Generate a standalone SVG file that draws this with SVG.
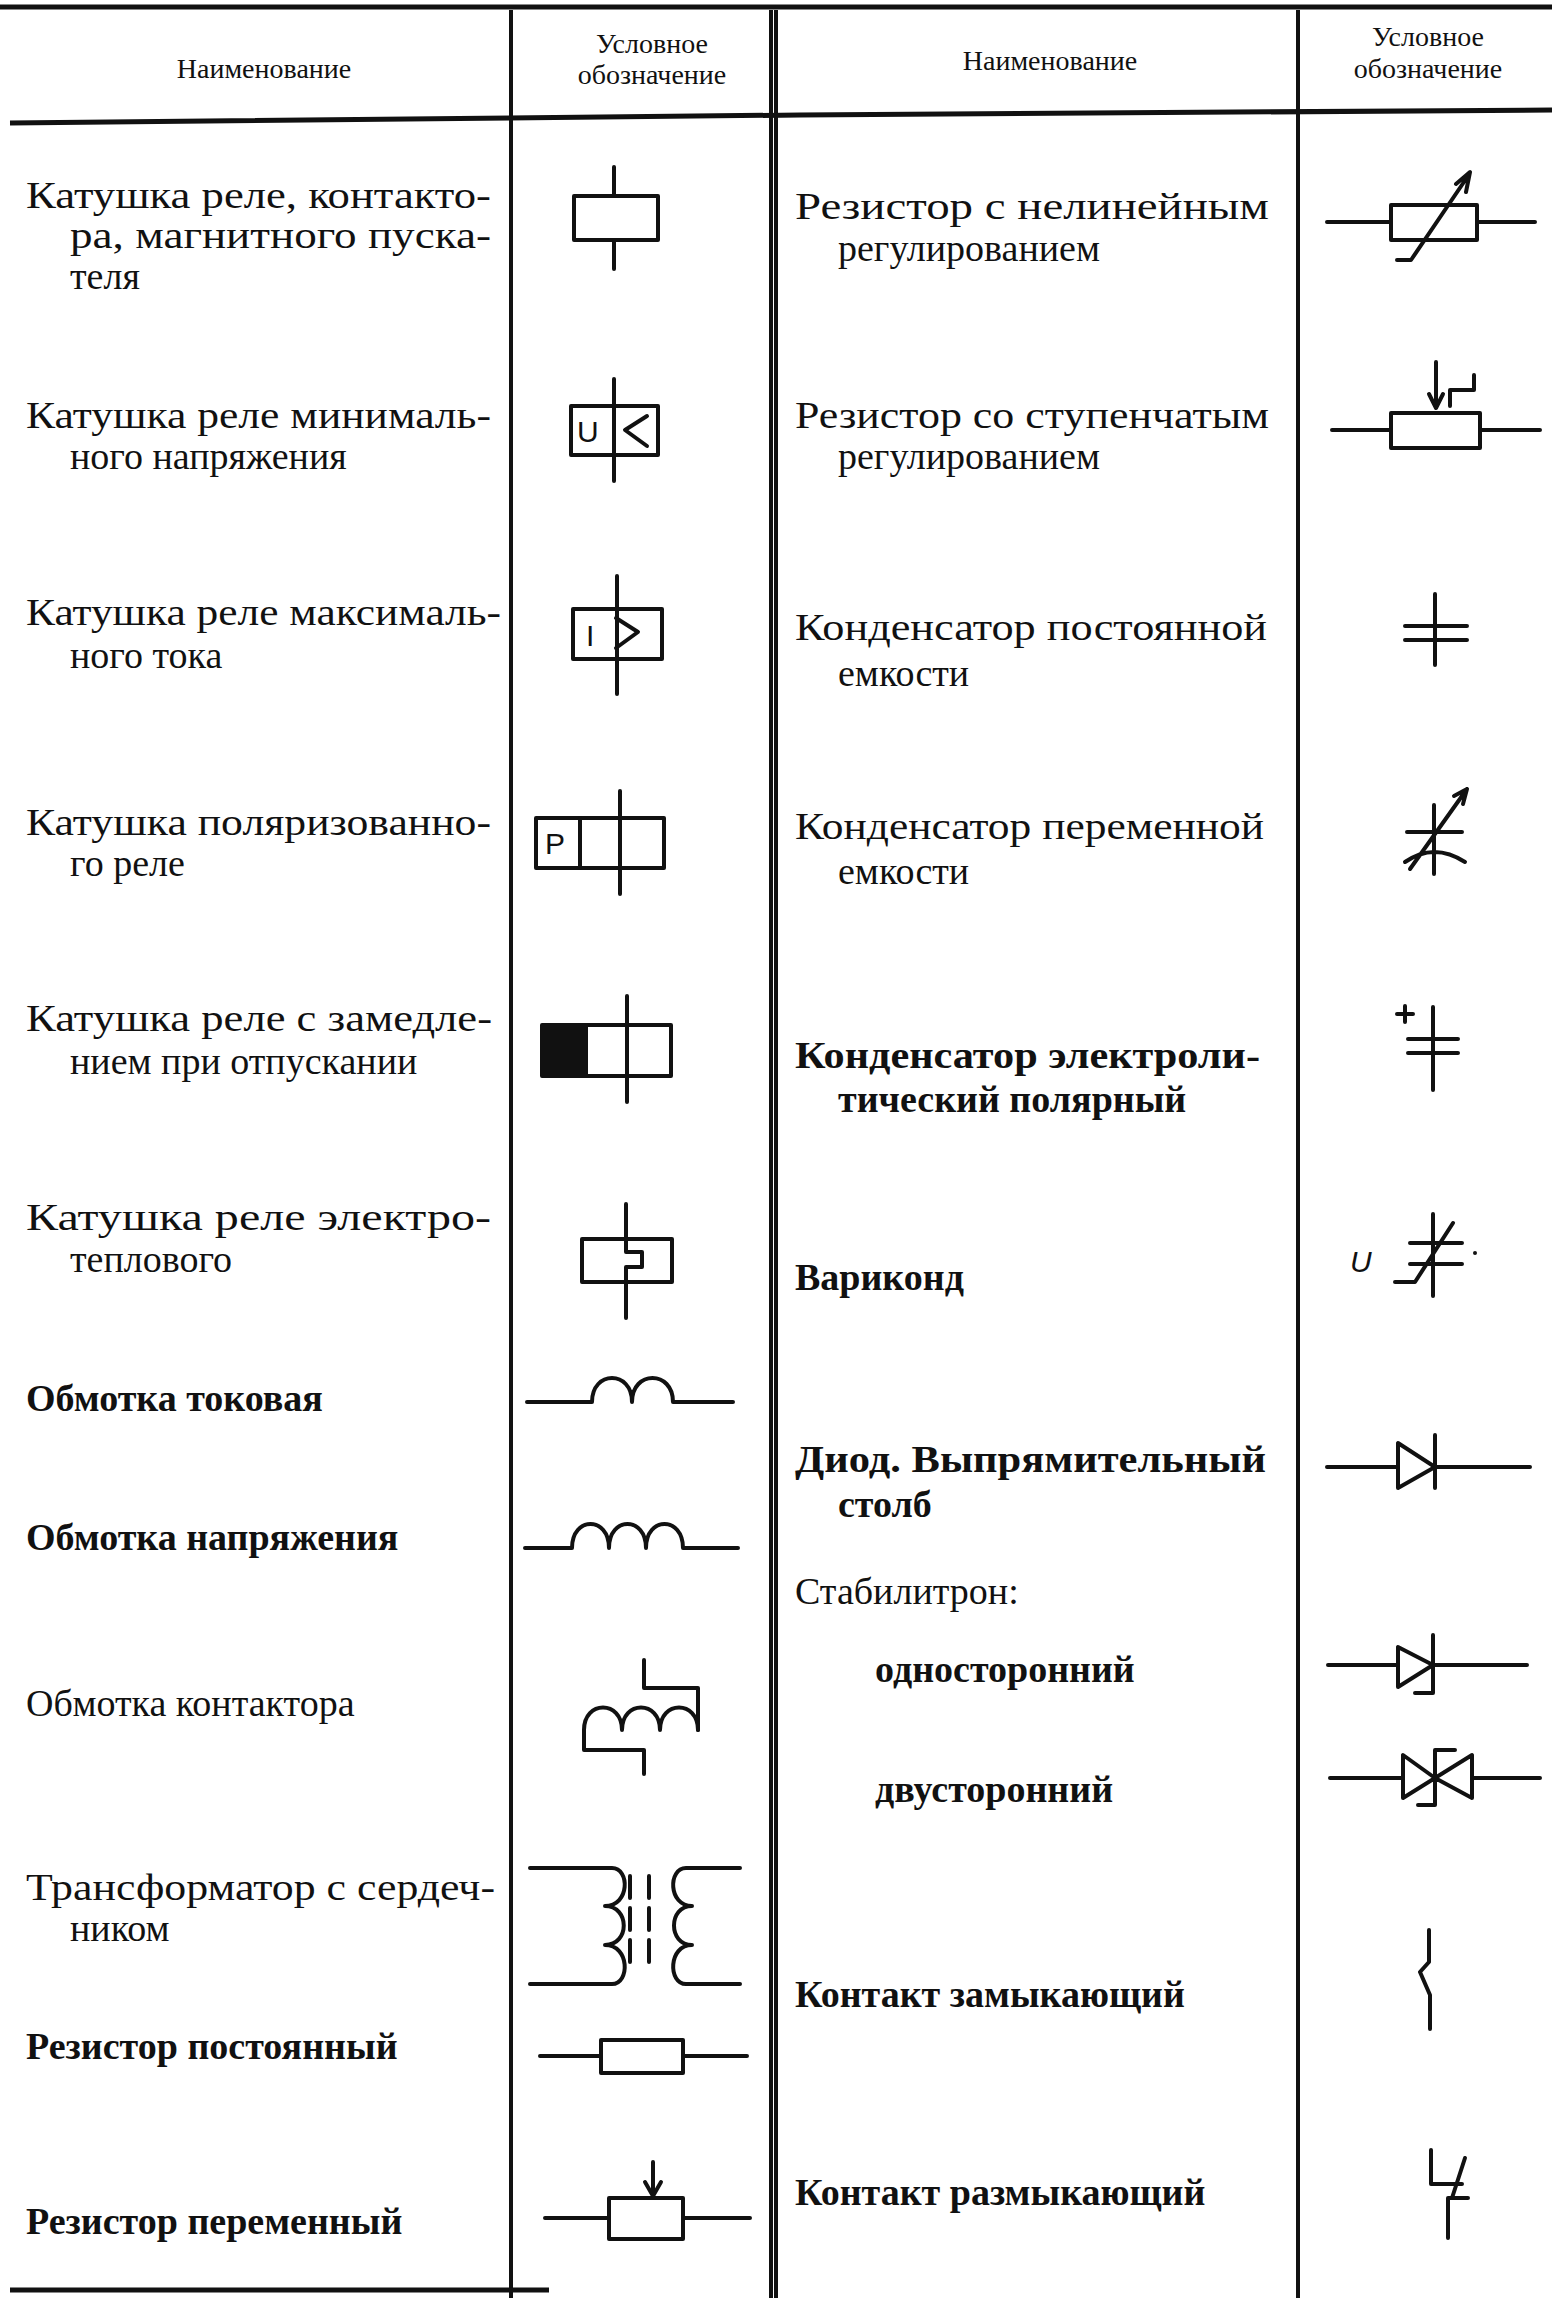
<svg xmlns="http://www.w3.org/2000/svg" width="1552" height="2298" viewBox="0 0 1552 2298">
<style>
text{font-family:"Liberation Serif","DejaVu Serif",serif;font-size:38px;fill:#111}
.h{font-size:28px;text-anchor:middle}
.b{font-weight:bold}
.s{fill:none;stroke:#111;stroke-width:4;stroke-linecap:round;stroke-linejoin:round}
.g{fill:none;stroke:#111;stroke-width:4}
.sym{font-family:"Liberation Sans",sans-serif;font-size:30px}
</style>
<rect width="1552" height="2298" fill="#fff"/>
<g id="grid" class="g">
<path d="M0,7 H1552" stroke-width="5"/>
<path d="M10,123 L800,115 L1552,110" stroke-width="5"/>
<path d="M511,10 V2298 M771,10 V2298 M776,10 V2298 M1298,10 V2298"/>
<path d="M10,2290 H549" stroke-width="5"/>
</g>
<g id="header">
<text class="h" x="264" y="78">Наименование</text>
<text class="h" x="652" y="53">Условное</text>
<text class="h" x="652" y="84">обозначение</text>
<text class="h" x="1050" y="70">Наименование</text>
<text class="h" x="1428" y="46">Условное</text>
<text class="h" x="1428" y="78">обозначение</text>
</g>
<g id="left-texts">
<text x="26" y="208" textLength="465" lengthAdjust="spacingAndGlyphs">Катушка реле, контакто-</text>
<text x="70" y="248" textLength="421" lengthAdjust="spacingAndGlyphs">ра, магнитного пуска-</text>
<text x="70" y="289">теля</text>
<text x="26" y="428" textLength="465" lengthAdjust="spacingAndGlyphs">Катушка реле минималь-</text>
<text x="70" y="469">ного напряжения</text>
<text x="26" y="625" textLength="475" lengthAdjust="spacingAndGlyphs">Катушка реле максималь-</text>
<text x="70" y="668">ного тока</text>
<text x="26" y="835" textLength="465" lengthAdjust="spacingAndGlyphs">Катушка поляризованно-</text>
<text x="70" y="876">го реле</text>
<text x="26" y="1031" textLength="466" lengthAdjust="spacingAndGlyphs">Катушка реле с замедле-</text>
<text x="70" y="1074">нием при отпускании</text>
<text x="26" y="1230" textLength="465" lengthAdjust="spacingAndGlyphs">Катушка реле электро-</text>
<text x="70" y="1272">теплового</text>
<text class="b" x="26" y="1411">Обмотка токовая</text>
<text class="b" x="26" y="1550">Обмотка напряжения</text>
<text x="26" y="1716">Обмотка контактора</text>
<text x="26" y="1900" textLength="469" lengthAdjust="spacingAndGlyphs">Трансформатор с сердеч-</text>
<text x="70" y="1941">ником</text>
<text class="b" x="26" y="2059">Резистор постоянный</text>
<text class="b" x="26" y="2234">Резистор переменный</text>
</g>
<g id="right-texts">
<text x="795" y="219" textLength="474" lengthAdjust="spacingAndGlyphs">Резистор с нелинейным</text>
<text x="838" y="261">регулированием</text>
<text x="795" y="428" textLength="474" lengthAdjust="spacingAndGlyphs">Резистор со ступенчатым</text>
<text x="838" y="469">регулированием</text>
<text x="795" y="640" textLength="472" lengthAdjust="spacingAndGlyphs">Конденсатор постоянной</text>
<text x="838" y="686">емкости</text>
<text x="795" y="839" textLength="469" lengthAdjust="spacingAndGlyphs">Конденсатор переменной</text>
<text x="838" y="884">емкости</text>
<text class="b" x="795" y="1068" textLength="465" lengthAdjust="spacingAndGlyphs">Конденсатор электроли-</text>
<text class="b" x="838" y="1112">тический полярный</text>
<text class="b" x="795" y="1290">Варикон&#x434;</text>
<text class="b" x="795" y="1472" textLength="471" lengthAdjust="spacingAndGlyphs">Диод. Выпрямительный</text>
<text class="b" x="838" y="1517">столб</text>
<text x="795" y="1604">Стабилитрон:</text>
<text class="b" x="875" y="1682">односторонний</text>
<text class="b" x="875" y="1802">двусторонний</text>
<text class="b" x="795" y="2007">Контакт замыкающий</text>
<text class="b" x="795" y="2205">Контакт размыкающий</text>
</g>
<g id="sym-left-1" class="s"><path d="M614,167 V269"/><rect x="574" y="196" width="84" height="44" fill="#fff"/></g>
<g id="sym-left-2"><path class="s" d="M614,379 V481"/><rect class="s" x="571" y="406" width="87" height="49" fill="#fff"/><text class="sym" x="577" y="442">U</text><path class="s" d="M647,416 L625,430 L647,446"/></g>
<g id="sym-left-3"><path class="s" d="M617,576 V694"/><rect class="s" x="573" y="609" width="89" height="50" fill="#fff"/><text class="sym" x="586" y="646">I</text><path class="s" d="M616,618 L638,632 L616,648"/></g>
<g id="sym-left-4"><path class="s" d="M620,791 V894"/><rect class="s" x="536" y="818" width="128" height="50" fill="#fff"/><path class="s" d="M580,818 V868"/><text class="sym" x="545" y="854" font-size="26">P</text></g>
<g id="sym-left-5"><path class="s" d="M627,996 V1102"/><rect class="s" x="542" y="1025" width="129" height="51" fill="#fff"/><rect x="542" y="1025" width="46" height="51" fill="#111"/></g>
<g id="sym-left-6" class="s"><rect x="582" y="1239" width="90" height="43"/><path d="M626,1204 V1252 H642 V1267 H626 V1318"/></g>
<g id="sym-left-7" class="s"><path d="M527,1402 H592 C592,1370 632,1370 632,1402 C632,1370 673,1370 673,1402 H733"/></g>
<g id="sym-left-8" class="s"><path d="M525,1548 H572 C572,1516 609,1516 609,1548 C609,1516 646,1516 646,1548 C646,1516 683,1516 683,1548 H738"/></g>
<g id="sym-left-9" class="s"><path d="M644,1660 V1688 H698 V1730"/><path d="M698,1730 C698,1700 660,1700 660,1730 C660,1700 622,1700 622,1730 C622,1700 584,1700 584,1730 V1750 H644 V1774"/></g>
<g id="sym-left-10" class="s"><path d="M530,1868 H612 C630,1868 630,1906 605,1906 C630,1906 630,1945 605,1945 C630,1945 630,1984 612,1984 H530"/><path d="M630,1876 V1971 M649,1876 V1971" stroke-dasharray="22,10"/><path d="M740,1868 H686 C668,1868 668,1906 692,1906 C668,1906 668,1945 692,1945 C668,1945 668,1984 686,1984 H740"/></g>
<g id="sym-left-11" class="s"><path d="M540,2056 H601 M683,2056 H747"/><rect x="601" y="2040" width="82" height="33"/></g>
<g id="sym-left-12" class="s"><path d="M545,2218 H609 M683,2218 H750"/><rect x="609" y="2198" width="74" height="41"/><path d="M653,2162 V2196 M645,2182 L653,2196 L661,2182"/></g>
<g id="sym-right-1" class="s"><path d="M1327,222 H1391 M1477,222 H1535"/><rect x="1391" y="205" width="86" height="35"/><path d="M1397,260 H1411 L1468,176 M1456,184 L1470,172 L1466,192"/></g>
<g id="sym-right-2" class="s"><path d="M1332,430 H1391 M1480,430 H1540"/><rect x="1391" y="413" width="89" height="35"/><path d="M1436,362 V408 M1429,394 L1436,408 L1443,394"/><path d="M1450,406 V390 H1474 V375"/></g>
<g id="sym-right-3" class="s"><path d="M1435,594 V665 M1405,626 H1467 M1405,640 H1467"/></g>
<g id="sym-right-4" class="s"><path d="M1434,805 V874 M1407,832 H1462 M1405,862 Q1434,842 1465,862 M1410,869 L1467,789 M1454,796 L1467,789 L1463,804"/></g>
<g id="sym-right-5" class="s"><path d="M1433,1007 V1090 M1408,1039 H1458 M1408,1053 H1458 M1397,1014 H1413 M1405,1006 V1022"/></g>
<g id="sym-right-6"><text class="sym" x="1350" y="1272" font-style="italic" font-size="28">U</text><path class="s" d="M1433,1214 V1296 M1410,1243 H1462 M1410,1264 H1462 M1395,1282 H1415 L1453,1223"/><circle cx="1475" cy="1253" r="2" fill="#111"/></g>
<g id="sym-right-7" class="s"><path d="M1327,1467 H1398 M1435,1467 H1530 M1398,1443 V1488 L1435,1467 Z M1435,1435 V1488"/></g>
<g id="sym-right-8" class="s"><path d="M1328,1665 H1398 M1433,1665 H1527 M1398,1647 V1687 L1433,1665 Z M1433,1635 V1693 H1415"/></g>
<g id="sym-right-9" class="s"><path d="M1330,1778 H1403 M1472,1778 H1540 M1403,1755 V1798 L1435,1778 Z M1472,1755 V1798 L1435,1778 Z M1455,1750 H1435 V1805 H1418"/></g>
<g id="sym-right-10" class="s"><path d="M1429,1930 V1962 L1420,1972 M1420,1972 L1430,1995 V2029"/></g>
<g id="sym-right-11" class="s"><path d="M1431,2150 V2184 H1462 M1465,2158 L1452,2198 M1448,2198 H1468 M1448,2198 V2238"/></g>
</svg>
